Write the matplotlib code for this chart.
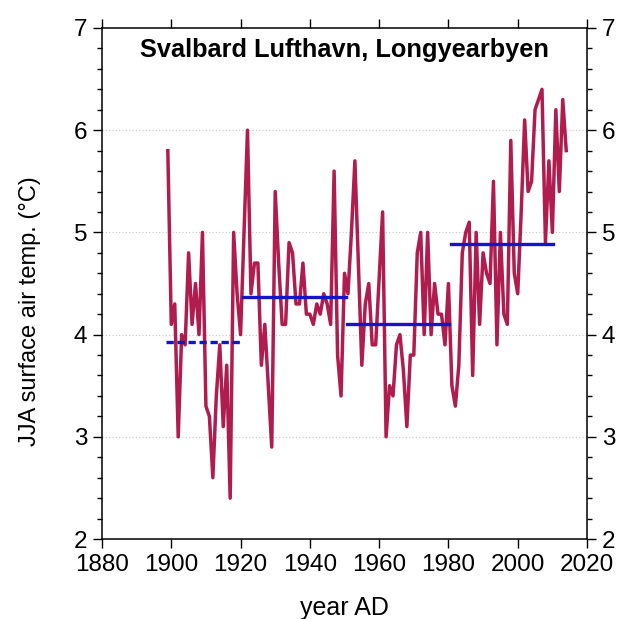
import matplotlib
matplotlib.use("Agg")
import matplotlib.pyplot as plt
from matplotlib.ticker import MultipleLocator

years = list(range(1899, 2015))
temps = [
    5.8, 4.1, 4.3, 3.0, 4.0, 3.9, 4.8, 4.1, 4.5, 4.0,   # 1899-1908
    5.0, 3.3, 3.2, 2.6, 3.4, 3.9, 3.1, 3.7, 2.4, 5.0,   # 1909-1918
    4.4, 4.0, 5.0, 6.0, 4.4, 4.7, 4.7, 3.7, 4.1, 3.5,   # 1919-1928
    2.9, 5.4, 4.7, 4.1, 4.1, 4.9, 4.8, 4.3, 4.3, 4.7,   # 1929-1938
    4.2, 4.2, 4.1, 4.3, 4.2, 4.4, 4.3, 4.1, 5.6, 3.8,   # 1939-1948
    3.4, 4.6, 4.4, 5.0, 5.7, 4.7, 3.7, 4.3, 4.5, 3.9,   # 1949-1958
    3.9, 4.55, 5.2, 3.0, 3.5, 3.4, 3.9, 4.0, 3.65, 3.1, # 1959-1968
    3.8, 3.8, 4.8, 5.0, 4.0, 5.0, 4.0, 4.5, 4.2, 4.2,   # 1969-1978
    3.9, 4.5, 3.5, 3.3, 3.7, 4.8, 5.0, 5.1, 3.6, 5.0,   # 1979-1988
    4.1, 4.8, 4.6, 4.5, 5.5, 3.9, 5.0, 4.2, 4.1, 5.9,   # 1989-1998
    4.6, 4.4, 5.2, 6.1, 5.4, 5.5, 6.2, 6.3, 6.4, 4.9,   # 1999-2008
    5.7, 5.0, 6.2, 5.4, 6.3, 5.8,                       # 2009-2014
]

period_starts = [1898.5, 1920.6, 1950.6, 1980.6]
period_ends = [1920.3, 1950.3, 1980.3, 2010.3]
period_means = [3.93, 4.37, 4.10, 4.89]
period_styles = ["--", "-", "-", "-"]

title = "Svalbard Lufthavn, Longyearbyen"
xlabel = "year AD"
ylabel = "JJA surface air temp. (\u00b0C)"

plt.rcParams["font.family"] = ["Liberation Sans", "DejaVu Sans"]

fig = plt.figure(figsize=(6.17, 6.19), dpi=100)
ax = fig.add_axes([0.1653, 0.1292, 0.9514 - 0.1653, 0.9548 - 0.1292])

ax.plot(years, temps, color="#B01C4E", lw=2.5, zorder=3)
for s, e, m, ls in zip(period_starts, period_ends, period_means, period_styles):
    line, = ax.plot([s, e], [m, m], color="#1414C8", lw=2.4, zorder=4)
    if ls == "--":
        line.set_dashes((2.2, 1.1))

ax.set_xlim(1880, 2020)
ax.set_ylim(2, 7)
ax.xaxis.set_major_locator(MultipleLocator(20))
ax.yaxis.set_major_locator(MultipleLocator(1))
ax.yaxis.set_minor_locator(MultipleLocator(0.2))

ax.tick_params(axis="both", which="major", direction="out", length=6.5,
               width=1, labelsize=17.5, top=True, right=True, labelright=True,
               pad=4)
ax.tick_params(axis="y", which="minor", direction="out", length=3.5,
               width=1, left=True, right=True)
for sp in ax.spines.values():
    sp.set_linewidth(1.1)

for v in [3, 4, 5, 6]:
    ax.axhline(v, color="#c8c8c8", lw=0.8, ls=(0, (1, 2)), zorder=1)

ax.text(0.5, 0.981, title, transform=ax.transAxes, ha="center", va="top",
        fontsize=18.3, fontweight="bold")
ax.set_xlabel(xlabel, fontsize=18, labelpad=15)
ax.set_ylabel(ylabel, fontsize=17)
ax.yaxis.set_label_coords(-0.125, 0.445)

fig.savefig("out.png", dpi=100)
